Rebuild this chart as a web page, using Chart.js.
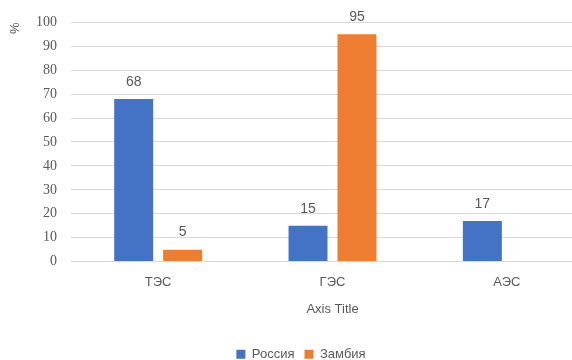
<!DOCTYPE html>
<html>
<head>
<meta charset="utf-8">
<script src="https://cdn.jsdelivr.net/npm/chart.js@4/dist/chart.umd.min.js"></script>
<style>
  html, body { margin: 0; padding: 0; background: #fff; overflow: hidden; }
  #wrap { width: 572px; height: 360px; overflow: hidden; }
  canvas { display: block; }
</style>
</head>
<body>
<div id="wrap"><canvas id="c" width="602" height="360"></canvas></div>
<script>
// Структура выработки электроэнергии, %
const categories = ['ТЭС', 'ГЭС', 'АЭС'];
const russia = [68, 15, 17];
const zambia = [5, 95, null];
const seriesNames = ['Россия', 'Замбия'];

const grey = '#595959';
const sans = "'Liberation Sans', 'Open Sans', sans-serif";
const serif = "'Liberation Serif', 'DejaVu Serif', serif";

// Подписи значений над столбцами
const valueLabels = {
  id: 'valueLabels',
  afterDatasetsDraw(chart) {
    const ctx = chart.ctx;
    ctx.save();
    ctx.fillStyle = grey;
    ctx.textAlign = 'center';
    ctx.textBaseline = 'middle';
    ctx.font = '14px ' + sans;
    chart.data.datasets.forEach((ds, i) => {
      const meta = chart.getDatasetMeta(i);
      meta.data.forEach((bar, j) => {
        const v = ds.data[j];
        if (v === null || v === undefined) return;
        ctx.fillText(String(v), bar.x, bar.y - 17);
      });
    });
    ctx.restore();
  }
};

new Chart(document.getElementById('c'), {
  type: 'bar',
  data: {
    labels: categories,
    datasets: [
      { label: seriesNames[0], data: russia, backgroundColor: '#4472C4' },
      { label: seriesNames[1], data: zambia, backgroundColor: '#ED7D31' }
    ]
  },
  options: {
    responsive: false,
    animation: false,
    devicePixelRatio: 1,
    categoryPercentage: 0.5616,
    barPercentage: 0.796,
    layout: { padding: { left: 8, right: 8, top: 20, bottom: -10.8 } },
    plugins: {
      tooltip: { enabled: false },
      legend: {
        position: 'bottom',
        labels: {
          boxWidth: 9, boxHeight: 9, padding: 10,
          color: grey,
          font: { size: 13, family: sans }
        }
      }
    },
    scales: {
      x: {
        grid: { display: false, drawTicks: false },
        border: { display: false },
        ticks: { color: grey, font: { size: 13, family: sans }, padding: 13 },
        title: {
          display: true, text: 'Axis Title', color: grey,
          font: { size: 13, family: sans }, padding: { top: 0, bottom: 20.4 }
        },
        afterFit(s) { s.height = 76.2; }
      },
      y: {
        min: 0, max: 100,
        grid: { color: '#d9d9d9', lineWidth: 1, drawTicks: false },
        border: { display: false },
        ticks: { stepSize: 10, color: grey, font: { size: 14, family: serif }, padding: 14 },
        title: {
          display: true, text: '%', align: 'end', color: grey,
          font: { size: 13, family: sans }, padding: 0
        },
        afterFit(s) { s.width = 63; }
      }
    }
  },
  plugins: [valueLabels]
});
</script>
</body>
</html>
